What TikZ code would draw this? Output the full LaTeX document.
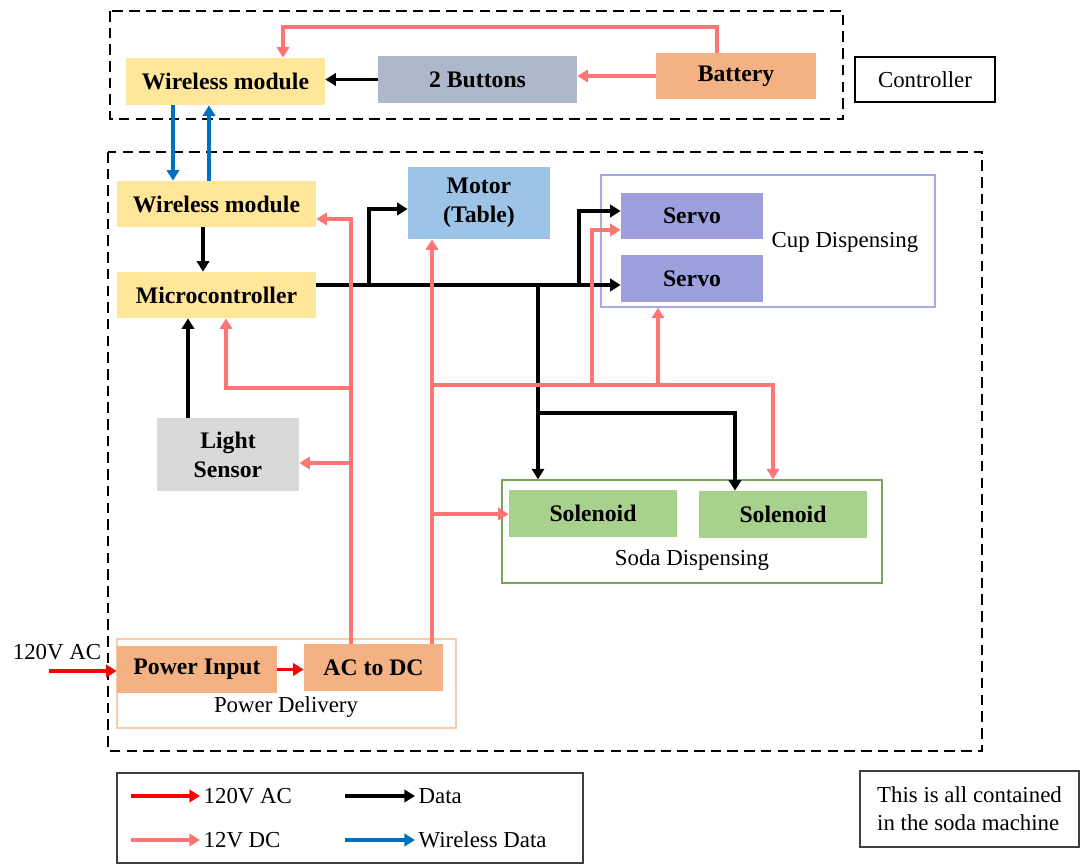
\documentclass[tikz,border=0pt]{standalone}
\usepackage{fontspec}
\setmainfont{Liberation Serif}
\usetikzlibrary{arrows.meta, positioning, calc}
\definecolor{wmyel}{HTML}{FFE699}
\definecolor{btngray}{HTML}{ADB9CA}
\definecolor{pwrorange}{HTML}{F4B183}
\definecolor{motorblue}{HTML}{9DC3E6}
\definecolor{servopurple}{HTML}{9EA0DE}
\definecolor{sensorgray}{HTML}{D9D9D9}
\definecolor{solgreen}{HTML}{A9D18E}
\definecolor{cupline}{HTML}{A8A8EA}
\definecolor{sodaline}{HTML}{78A55A}
\definecolor{pdline}{HTML}{F8CBAD}
\definecolor{dcpink}{HTML}{FF7575}
\definecolor{acred}{HTML}{FF0000}
\definecolor{wlblue}{HTML}{0070C0}

\begin{document}
\begin{tikzpicture}[x=0.02cm, y=-0.02cm,
      blk/.style={rectangle, inner sep=0pt, align=center,
                  font=\fontsize{13.5}{16.5}\selectfont\bfseries},
      grp/.style={rectangle, inner sep=0pt, line width=0.8pt},
      lbl/.style={inner sep=0pt, font=\fontsize{13}{16}\selectfont},
      dashbox/.style={draw=black, line width=1.6pt, dash pattern=on 6pt off 3.5pt},
      data/.style={-{Triangle[length=6pt,width=7pt]}, line width=2.2pt, draw=black},
      dc/.style={-{Triangle[length=6pt,width=7pt]}, line width=2.2pt, draw=dcpink},
      ac/.style={-{Triangle[length=6pt,width=7pt]}, line width=2.2pt, draw=acred},
      wl/.style={-{Triangle[length=6pt,width=7pt]}, line width=2.2pt, draw=wlblue}
    ]
    \useasboundingbox (0,0) rectangle (1080,865);

    % controller
    \draw[dashbox] (110,11) rectangle (843,119);
    \node[blk, fill=wmyel, minimum width=3.98cm, minimum height=0.94cm] (wmc) at (225.5,81.5) {Wireless module};
    \node[blk, fill=btngray, minimum width=3.98cm, minimum height=0.94cm] (btn) at (477.5,79.5) {2 Buttons};
    \node[blk, fill=pwrorange, minimum width=3.2cm, minimum height=0.92cm] (bat) at (736,76) {Battery};
    \node[lbl, draw, line width=0.8pt, minimum width=2.8cm, minimum height=0.9cm] (ctl) at (925,79.5) {Controller};

    % soda machine
    \draw[dashbox] (108,152) rectangle (982,751);
    \node[grp, draw=cupline, minimum width=6.68cm, minimum height=2.64cm] (cup) at (768,241) {};
    \node[grp, draw=sodaline, minimum width=7.6cm, minimum height=2.06cm] (soda) at (692,531.5) {};
    \node[grp, draw=pdline, minimum width=6.78cm, minimum height=1.78cm] (pdel) at (286.5,683.5) {};

    \node[blk, fill=wmyel, minimum width=3.98cm, minimum height=0.92cm] (wmm) at (216.5,204) {Wireless module};
    \node[blk, fill=wmyel, minimum width=3.98cm, minimum height=0.92cm] (mcu) at (216.5,295) {Microcontroller};
    \node[blk, fill=motorblue, minimum width=2.84cm, minimum height=1.44cm] (motor) at (479,203) {Motor\\(Table)};
    \node[blk, fill=servopurple, minimum width=2.84cm, minimum height=0.92cm] (servoa) at (692,216) {Servo};
    \node[blk, fill=servopurple, minimum width=2.84cm, minimum height=0.94cm] (servob) at (692,278.5) {Servo};
    \node[lbl] (cuplbl) at (845,242) {Cup Dispensing};
    \node[blk, fill=sensorgray, minimum width=2.84cm, minimum height=1.46cm] (light) at (228,454.5) {Light\\Sensor};
    \node[blk, fill=solgreen, minimum width=3.36cm, minimum height=0.94cm] (sola) at (593,513.5) {Solenoid};
    \node[blk, fill=solgreen, minimum width=3.36cm, minimum height=0.94cm] (solb) at (783,514.5) {Solenoid};
    \node[lbl] (sodalbl) at (692,560) {Soda Dispensing};
    \node[blk, fill=pwrorange, minimum width=3.2cm, minimum height=0.94cm] (pin) at (197,669.5) {Power Input};
    \node[blk, fill=pwrorange, minimum width=2.78cm, minimum height=0.94cm] (acdc) at (373.5,667.5) {AC to DC};
    \node[lbl] (pdlbl) at (286,707) {Power Delivery};
    \node[lbl] (aclbl) at (57,652) {120V AC};

    % controller links
    \draw[dc] (bat.west) -- (bat.west -| btn.east);
    \draw[dc] ($(bat.north)+(-19,0)$) -- ++(0,-26) -| ($(wmc.north)+(57.5,0)$);
    \draw[data] (btn.west) -- (btn.west -| wmc.east);
    \draw[wl] (wmc.south -| 173,0) -- (wmm.north -| 173,0);
    \draw[wl] (wmm.north -| 209,0) -- (wmc.south -| 209,0);

    % data
    \coordinate (jm) at (369,285);
    \coordinate (jd) at (538,285);
    \coordinate (js) at (579,285);
    \draw[data] (wmm.south -| 203,0) -- (mcu.north -| 203,0);
    \draw[data] (light.north -| 188,0) -- (mcu.south -| 188,0);
    \draw[data] (mcu.east |- jm) -- (servob.west |- jm);
    \draw[data] (jm) |- (motor.west |- 0,209);
    \draw[data] (js) |- (servoa.west |- 0,211);
    \draw[data] (jd) -- (jd |- soda.north);
    \draw[data] (jd |- 0,413) -| ($(solb.north)+(-48,0)$);

    % 12V DC
    \coordinate (pa) at (acdc.north -| 351,0);
    \coordinate (pb) at (acdc.north -| 432,0);
    \coordinate (pc) at (592,385);
    \coordinate (pd) at (658,385);
    \draw[dc] (pa) |- (wmm.east |- 0,219);
    \draw[dc] (pa |- 0,388) -| ($(mcu.south)+(9.5,0)$);
    \draw[dc] (pa |- 0,463) -- (light.east |- 0,463);
    \draw[dc] (pb) -- (pb |- motor.south);
    \draw[dc] (pb |- 0,514) -- (sola.west |- 0,514);
    \draw[dc] (pb |- pc) -| (soda.north -| 773,0);
    \draw[dc] (pc) |- (servoa.west |- 0,230);
    \draw[dc] (pd) -- (pd |- cup.south);

    % 120V AC
    \coordinate (acin) at (49,671);
    \draw[ac] (acin) -- (pin.west |- acin);
    \draw[ac] (pin.east) -- (pin.east -| acdc.west);

    % legend
    \draw[line width=0.8pt, draw=black!75] (117,773) rectangle (583,863);
    \coordinate (la) at (131,796);
    \coordinate (lb) at (345,796);
    \coordinate (lc) at (131,840);
    \coordinate (ld) at (345,840);
    \draw[ac] (la) -- ++(69,0) node[lbl, anchor=west, inner sep=1pt] (lta) {120V AC};
    \draw[data] (lb) -- ++(70,0) node[lbl, anchor=west, inner sep=1pt] (ltb) {Data};
    \draw[dc] (lc) -- ++(69,0) node[lbl, anchor=west, inner sep=1pt] (ltc) {12V DC};
    \draw[wl] (ld) -- ++(70,0) node[lbl, anchor=west, inner sep=1pt] (ltd) {Wireless Data};

    \node[lbl, draw, line width=0.8pt, draw=black!75, align=left,
          minimum width=4.38cm, minimum height=1.52cm] (note) at (969.5,809)
          {This is all contained\\in the soda machine};
  \end{tikzpicture}
\end{document}
